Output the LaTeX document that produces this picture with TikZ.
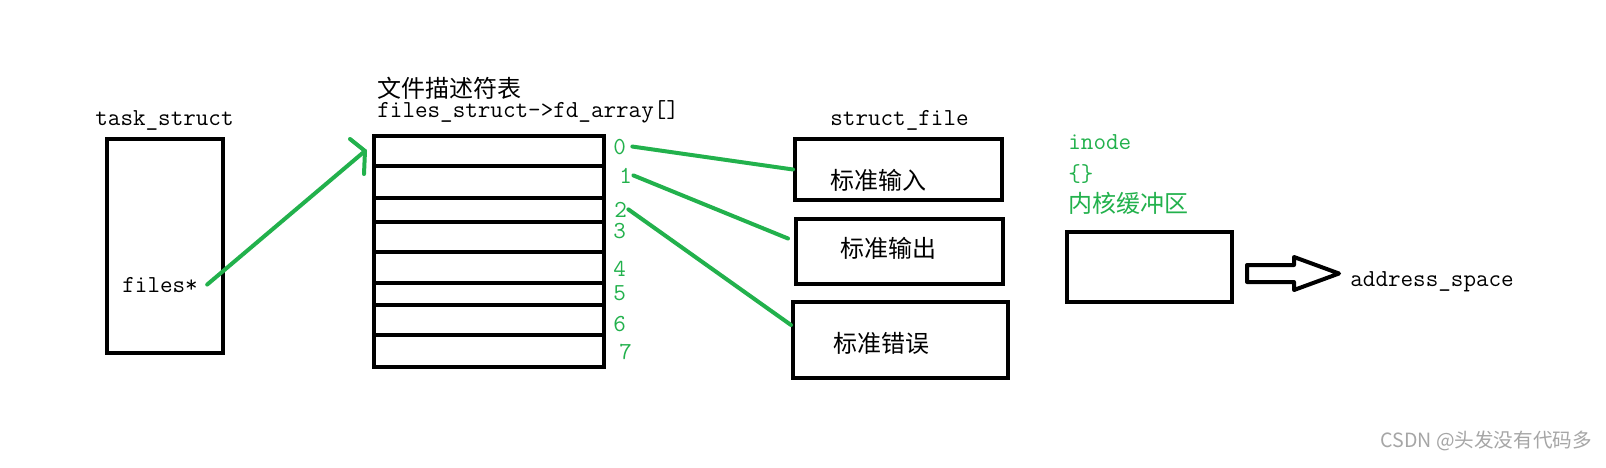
\documentclass[tikz,border=0pt]{standalone}
\usepackage{fontspec}
\newfontfamily\cjk{Noto Sans CJK SC}
\usepackage{tikz}
\usetikzlibrary{positioning}
\definecolor{paintgreen}{RGB}{34,177,76}
\tikzstyle{box}   = [rectangle, draw=black, line width=2pt, inner sep=0pt]
\tikzstyle{slot}  = [rectangle, draw=black, line width=2pt, inner sep=0pt, minimum width=115pt, anchor=north west]
\tikzstyle{mono}  = [font=\ttfamily\fontsize{12.2}{14}\selectfont, inner sep=0pt, anchor=base west]
\tikzstyle{hanzi} = [font=\cjk\fontsize{12}{14}\selectfont, inner sep=0pt, anchor=base west]
\tikzstyle{idx}   = [mono, text=paintgreen]
\tikzstyle{link}  = [draw=paintgreen, line width=2pt, line cap=round, line join=round]

\begin{document}
\begin{tikzpicture}[x=0.5pt, y=-0.5pt]
        \fill[white] (0,0) rectangle (1606,467);
        \useasboundingbox (0,0) rectangle (1606,467);

        \node[mono]                                                 (tasklbl) at (95,125)     {task\_struct};
        \node[box, minimum width=58pt, minimum height=107pt]        (task)    at (165,246)    {};
        \node[mono]                                                 (files)   at (122,292)    {files*};

        \node[hanzi]                                                (fdtitle) at (377,97)     {文件描述符表};
        \node[mono]                                                 (fdlbl)   at (377,117)    {files\_struct->fd\_array[]};
        \foreach \i/\y/\h in {0/134/30, 1/164/32, 2/196/24, 3/220/30, 4/250/31, 5/281/22, 6/303/30, 7/333/32}
            \node[slot, minimum height=\h*0.5pt]                    (row\i)   at (372,\y)     {};
        \foreach \i/\x/\y in {0/613/154, 1/619/183, 2/614/217, 3/613/238, 4/613/276, 5/613/300, 6/613/331, 7/619/359}
            \node[idx]                                              (num\i)   at (\x,\y)      {\i};

        \node[mono]                                                 (sflbl)   at (830,125)    {struct\_file};
        \node[box, minimum width=103.5pt, minimum height=30.5pt]    (stdin)   at (898.5,169.5) {};
        \node[box, minimum width=103.5pt, minimum height=32.5pt]    (stdout)  at (899.5,251.5) {};
        \node[box, minimum width=107.5pt, minimum height=38pt]      (stderr)  at (900.5,340)  {};
        \node[hanzi]                                                (intxt)   at (830,189)    {标准输入};
        \node[hanzi]                                                (outtxt)  at (840,257)    {标准输出};
        \node[hanzi]                                                (errtxt)  at (833,352)    {标准错误};

        \node[idx]                                                  (inode)   at (1068,149)   {inode};
        \node[idx]                                                  (braces)  at (1068,181)   {\{\}};
        \node[hanzi, text=paintgreen]                               (kbuf)    at (1068,212)   {内核缓冲区};
        \node[box, minimum width=82.5pt, minimum height=35pt]       (buffer)  at (1149.5,267) {};
        \node[mono]                                                 (aspace)  at (1350,286)   {address\_space};

        \node[font=\cjk\fontsize{9.8}{12}\selectfont, text=gray!70, inner sep=0pt, anchor=base west]
                                                                    (mark)    at (1380,447)   {CSDN @头发没有代码多};

        \coordinate (tip) at ([xshift=-3.5pt]row0.west);
        \draw[link] ([xshift=4.5pt]files.east) -- (tip);
        \draw[link] ([shift={(-15,-12)}]tip) -- (tip) -- ([shift={(-1,23)}]tip);

        \draw[link] ([xshift=3pt]num0.east)   -- (stdin.west);
        \draw[link] ([xshift=0.5pt]num1.east) -- ([shift={(-6,-13)}]stdout.west);
        \draw[link] ([xshift=0.5pt]num2.east) -- ([shift={(0,-15)}]stderr.west);

        \draw[line width=2pt, line join=round] ([shift={(13,6.5)}]buffer.east)
            -- ++(0,-8.5) -- ++(47,0) -- ++(0,-8) -- ++(45,16.5) -- ++(-45,16.5) -- ++(0,-8) -- ++(-47,0) -- cycle;
    \end{tikzpicture}
\end{document}
